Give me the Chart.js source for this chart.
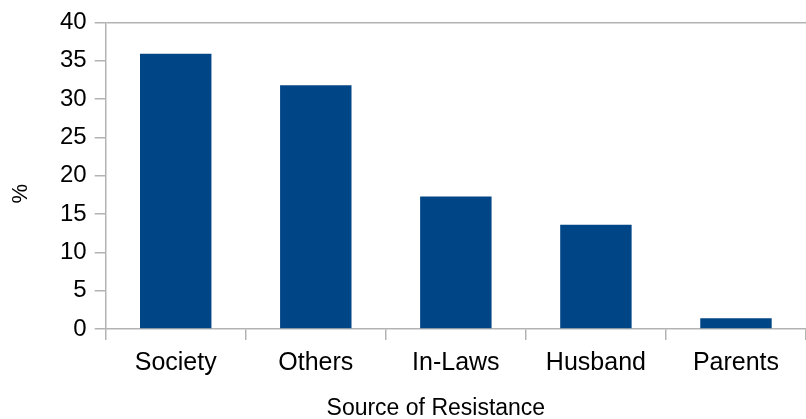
<!DOCTYPE html>
<html>
<head>
<meta charset="utf-8">
<script src="https://cdn.jsdelivr.net/npm/chart.js@4.4.0/dist/chart.umd.min.js"></script>
<style>
  html, body { margin: 0; padding: 0; background: #fff; }
  #wrap { width: 806px; height: 419px; position: relative; }
</style>
</head>
<body>
<div id="wrap"><canvas id="resistanceChart"></canvas></div>
<script>
// Data
const sources = ['Society', 'Others', 'In-Laws', 'Husband', 'Parents'];
const percents = [35.9, 31.8, 17.3, 13.6, 1.4];
const yTicks = [0, 5, 10, 15, 20, 25, 30, 35, 40];
const xTitle = 'Source of Resistance';
const yTitle = '%';

const lineGray = '#b3b3b3';
const fontFamily = 'Liberation Sans';

// axis titles sit a bit off the plot centre in the original, so draw them here
const axisTitles = {
  id: 'axisTitles',
  afterDraw(chart) {
    const { ctx, chartArea } = chart;
    ctx.save();
    ctx.fillStyle = '#000';
    ctx.textAlign = 'center';
    ctx.textBaseline = 'middle';
    ctx.font = '23px "' + fontFamily + '"';
    ctx.fillText(xTitle, (chartArea.left + chartArea.right) / 2 - 20, chartArea.bottom + 80);
    ctx.font = '22px "' + fontFamily + '"';
    ctx.translate(chartArea.left - 85, (chartArea.top + chartArea.bottom) / 2 + 18);
    ctx.rotate(-Math.PI / 2);
    ctx.fillText(yTitle, 0, 0);
    ctx.restore();
  }
};

const ctx = document.getElementById('resistanceChart').getContext('2d');

new Chart(ctx, {
  type: 'bar',
  data: {
    labels: sources,
    datasets: [{
      label: '%',
      data: percents,
      backgroundColor: '#004586',
      borderWidth: 0,
      categoryPercentage: 1,
      barPercentage: 0.51
    }]
  },
  options: {
    responsive: true,
    maintainAspectRatio: false,
    animation: false,
    layout: { padding: { top: 8, left: 52, right: 0, bottom: 33 } },
    plugins: {
      legend: { display: false },
      tooltip: { enabled: false }
    },
    scales: {
      x: {
        grid: {
          offset: true,
          color: 'rgba(0,0,0,0)',
          tickColor: lineGray,
          tickLength: 11,
          lineWidth: 1.5
        },
        border: { color: lineGray, width: 1.5 },
        ticks: {
          color: '#000',
          font: { family: fontFamily, size: 25 },
          padding: 8
        }
      },
      y: {
        min: 0,
        max: 40,
        afterBuildTicks: axis => { axis.ticks = yTicks.map(v => ({ value: v })); },
        grid: {
          color: c => (c.tick && c.tick.value === 40 ? lineGray : 'rgba(0,0,0,0)'),
          tickColor: lineGray,
          tickLength: 11,
          lineWidth: 1.5
        },
        border: { color: lineGray, width: 1.5 },
        ticks: {
          color: '#000',
          font: { family: fontFamily, size: 24 },
          padding: 8
        }
      }
    }
  },
  plugins: [axisTitles]
});
</script>
</body>
</html>
